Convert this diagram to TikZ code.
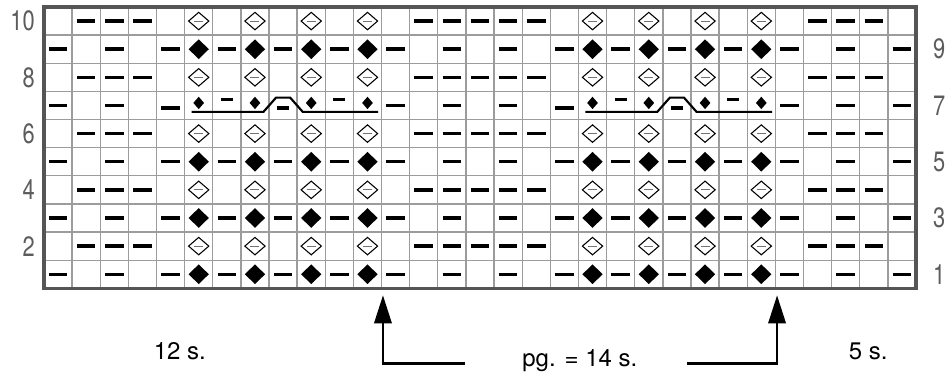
\documentclass[tikz,border=0pt]{standalone}
\usepackage{graphicx}
\usepackage{fontspec}
\setmainfont{TeX Gyre Heros}
\usetikzlibrary{arrows.meta}
\definecolor{rutegraa}{HTML}{9C9C9C}
\definecolor{rammegraa}{HTML}{555555}
\definecolor{tallgraa}{HTML}{5C5C5C}
\tikzset{
  rute/.style={draw=rutegraa,line width=1pt},
  ramme/.style={draw=rammegraa,line width=2.3pt},
  vrang/.style={line width=2.6pt},
  aapen/.style={draw=black,line width=0.8pt,fill=white},
  indre/.style={draw=black!55,line width=0.7pt},
  kabel/.style={line width=1.6pt},
  pil/.style={line width=1.8pt,-{Triangle[length=21pt,width=13pt]}},
  radnr/.style={text=tallgraa,inner sep=0pt,font=\fontsize{21}{21}\selectfont},
  maal/.style={inner sep=0pt,font=\fontsize{18}{18}\selectfont},
}
\newcommand\smalt[1]{\scalebox{0.78}[1]{#1}}
\begin{document}
\begin{tikzpicture}[x=21.1pt,y=21.1pt]
	\useasboundingbox (-1.564,-3.057) rectangle (32.066,10.249);
	% Rutenett
	\draw[rute,step=1] (0,0) grid (31,10);
	% Rader med fylte ruter
	\foreach \r in {1,3,5,9}{
		\foreach \c in {1,3,...,31}
			\draw[vrang] (\c-0.83,\r-0.5) -- (\c-0.17,\r-0.5);
		\foreach \c in {6,8,10,12,20,22,24,26}
			\fill[shift={(\c-0.5,\r-0.5)}] (0,0.35) -- (0.36,0) -- (0,-0.35) -- (-0.36,0) -- cycle;
	}
	% Rader med aapne ruter
	\foreach \r in {2,4,6,8,10}{
		\foreach \c in {2,3,4,14,15,16,17,18,28,29,30}
			\draw[vrang] (\c-0.83,\r-0.5) -- (\c-0.17,\r-0.5);
		\foreach \c in {6,8,10,12,20,22,24,26}{
			\draw[aapen,shift={(\c-0.5,\r-0.5)}] (0,0.31) -- (0.36,0) -- (0,-0.31) -- (-0.36,0) -- cycle;
			\draw[indre,shift={(\c-0.5,\r-0.5)}] (-0.16,0) -- (0.16,0);
		}
	}
	% Rad 7 med flette
	\foreach \c in {1,3,13,15,17,27,29,31}
		\draw[vrang] (\c-0.83,6.5) -- (\c-0.17,6.5);
	\foreach \c in {5,19}
		\draw[vrang] (\c-0.83,6.41) -- (\c-0.17,6.41);
	\foreach \c in {7,11,21,25}
		\draw[vrang] (\c-0.71,6.71) -- (\c-0.29,6.71);
	\foreach \c in {9,23}
		\draw[vrang] (\c-0.71,6.41) -- (\c-0.29,6.41);
	\foreach \c in {6,8,10,12,20,22,24,26}
		\fill[shift={(\c-0.5,6.59)}] (0,0.22) -- (0.19,0) -- (0,-0.22) -- (-0.19,0) -- cycle;
	\foreach \s in {5,19}
		\draw[kabel] (\s+0.25,6.27) -- (\s+2.8,6.27) -- (\s+3.25,6.78) -- (\s+3.75,6.78) -- (\s+4.2,6.27) -- (\s+6.88,6.27);
	\draw[ramme] (0,0) rectangle (31,10);
	% Radnummer
	\foreach \r in {2,4,...,10}
		\node[radnr,anchor=east] (v\r) at (-0.32,\r-0.5) {\smalt{\r}};
	\foreach \r in {1,3,...,9}
		\node[radnr,anchor=west] (h\r) at (31.6,\r-0.5) {\smalt{\r}};
	% Piler og maal
	\node[maal] (m12) at (4.83,-2.24) {12 s.};
	\node[maal] (pg) at (19.05,-2.56) {pg. = 14 s.};
	\node[maal] (m5) at (29.3,-2.24) {5 s.};
	\coordinate (venstreTopp) at (12.05,-0.25);
	\coordinate (venstreHjorne) at (12.05,-2.67);
	\coordinate (venstreEnde) at (14.97,-2.67);
	\coordinate (hoyreTopp) at (26.06,-0.25);
	\coordinate (hoyreHjorne) at (26.06,-2.67);
	\coordinate (hoyreEnde) at (22.86,-2.67);
	\draw[pil] (venstreEnde) -- (venstreHjorne) -- (venstreTopp);
	\draw[pil] (hoyreEnde) -- (hoyreHjorne) -- (hoyreTopp);
\end{tikzpicture}
\end{document}
